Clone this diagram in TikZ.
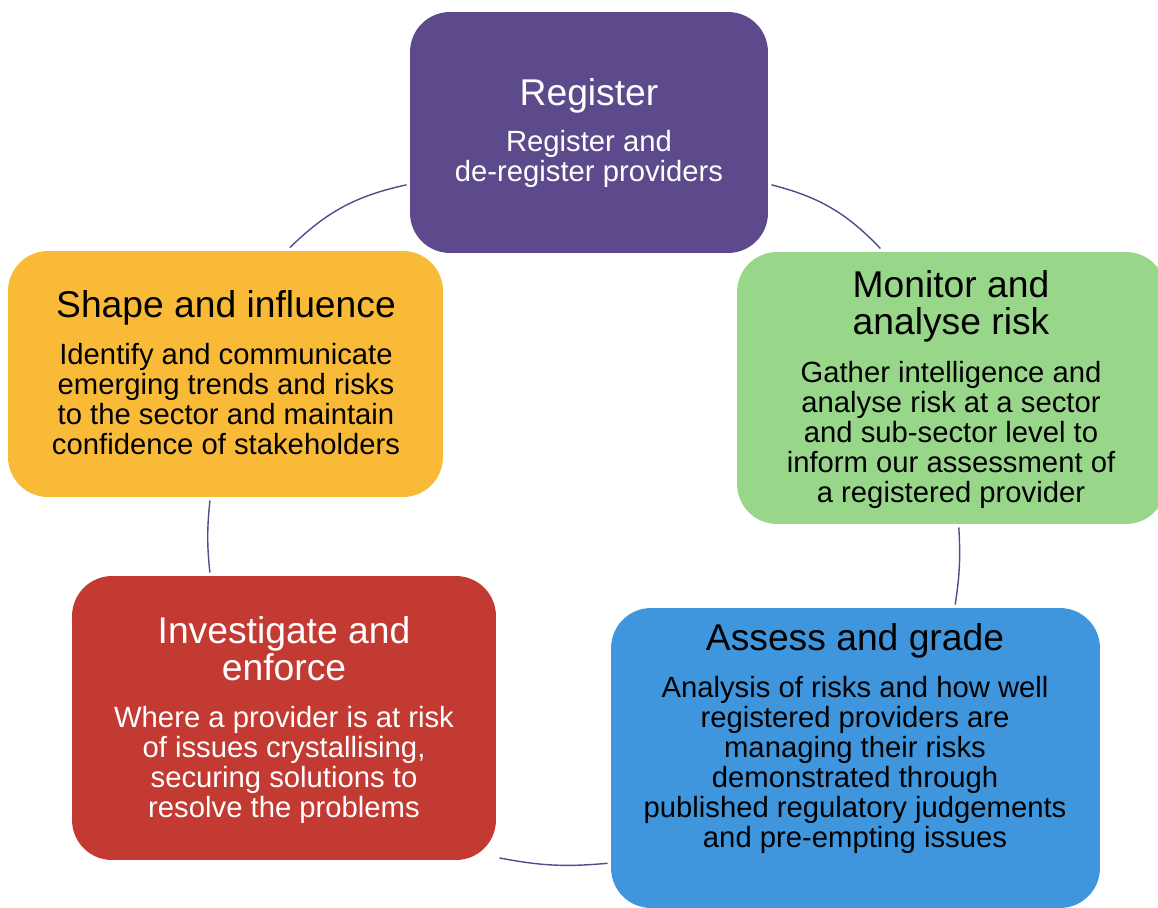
\documentclass[tikz,border=0pt]{standalone}
\usepackage{fontspec}
\setmainfont{Liberation Sans}
\usetikzlibrary{positioning}

\definecolor{regpurple}{RGB}{92,74,140}
\definecolor{mongreen}{RGB}{152,215,138}
\definecolor{assblue}{RGB}{63,150,220}
\definecolor{invred}{RGB}{195,58,51}
\definecolor{infyellow}{RGB}{249,186,56}
\definecolor{arcline}{RGB}{88,72,140}

\newcommand{\headfont}{\fontsize{21.2}{21.3}\selectfont}
\newcommand{\bodyfont}{\fontsize{16.65}{17.07}\selectfont}

\begin{document}
\begin{tikzpicture}[x=0.02cm, y=-0.02cm,
    stage/.style={rectangle, rounded corners=0.8cm, inner sep=0pt, outer sep=2pt},
    head/.style={anchor=north, align=center, inner sep=0pt, font=\headfont},
    body/.style={anchor=north, align=center, inner sep=0pt, font=\bodyfont},
    link/.style={draw=arcline, line width=0.8pt}]

    \useasboundingbox (0,0) rectangle (1158,907);

    % the five stages
    \node[stage, fill=regpurple, minimum width=7.16cm, minimum height=4.82cm] (register) at (589,132.5) {};
    \node[stage, fill=mongreen, minimum width=8.58cm, minimum height=5.44cm] (monitor) at (951.5,388) {};
    \node[stage, fill=assblue, minimum width=9.78cm, minimum height=6cm] (assess) at (855.5,758) {};
    \node[stage, fill=invred, minimum width=8.48cm, minimum height=5.68cm] (investigate) at (284,718) {};
    \node[stage, fill=infyellow, minimum width=8.7cm, minimum height=4.92cm] (influence) at (225.5,374) {};

    % titles and texts
    \node[head, text=white] (register head) at (589,78.2) {Register};
    \node[body, text=white] (register text) at (589,130) {Register and\\de-register providers};

    \node[head] (monitor head) at (951,269.8) {Monitor and\\analyse risk};
    \node[body] (monitor text) at (951,360.6) {Gather intelligence and\\analyse risk at a sector\\and sub-sector level to\\inform our assessment of\\a registered provider};

    \node[head] (assess head) at (855,623.2) {Assess and grade};
    \node[body] (assess text) at (855,675.6) {Analysis of risks and how well\\registered providers are\\managing their risks\\demonstrated through\\published regulatory judgements\\and pre-empting issues};

    \node[head, text=white] (investigate head) at (284,615.8) {Investigate and\\enforce};
    \node[body, text=white] (investigate text) at (284,706.2) {Where a provider is at risk\\of issues crystallising,\\securing solutions to\\resolve the problems};

    \node[head] (influence head) at (226,290.2) {Shape and influence};
    \node[body] (influence text) at (226,342.9) {Identify and communicate\\emerging trends and risks\\to the sector and maintain\\confidence of stakeholders};

    % cycle arcs
    \draw[link] (influence.63) to[bend left=16] (register.196);
    \draw[link] (register.344) to[bend left=16] (monitor.117);
    \draw[link] (monitor.273) to[bend left=6] (assess.57);
    \draw[link] (assess.203) to[bend left=8] (investigate.327);
    \draw[link] (investigate.117) to[bend left=6] (influence.263);

\end{tikzpicture}
\end{document}
